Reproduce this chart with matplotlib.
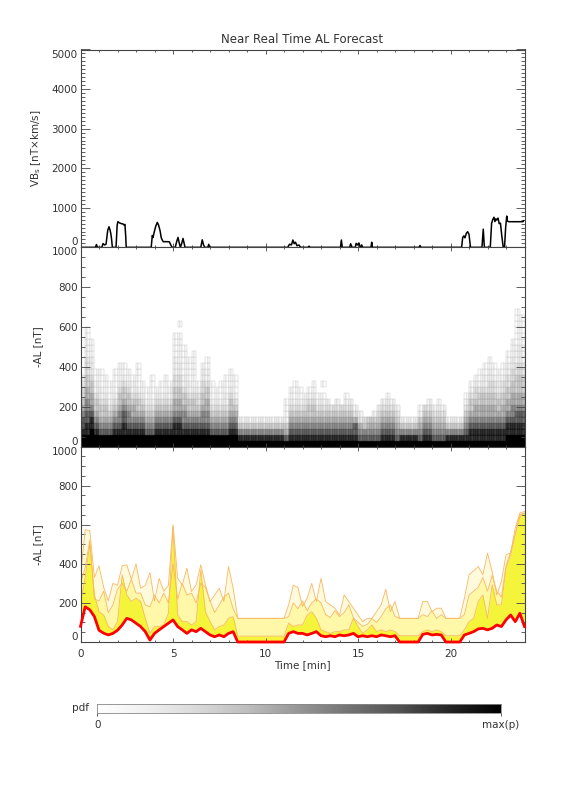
import numpy as np
import matplotlib
matplotlib.use("Agg")
import matplotlib.pyplot as plt

# --- DATA ---

# top panel: VBs driver, vertices of the black curve (time in min)
vbs_time = [0, 0.8, 0.86, 0.92, 1.15, 1.22, 1.3, 1.38, 1.47, 1.54, 1.6, 1.64, 1.68, 1.72,
            1.92, 1.98, 2.02, 2.1, 2.2, 2.3, 2.36, 2.4, 2.44, 2.47,
            3.82, 3.88, 3.92, 3.98, 4.07, 4.15, 4.22, 4.3, 4.36, 4.42, 4.48, 4.55, 4.8, 4.88, 4.95,
            5.12, 5.2, 5.27, 5.33, 5.4, 5.47, 5.54, 5.6, 5.65,
            6.5, 6.58, 6.65, 6.72, 6.88, 6.93, 6.98,
            11.2, 11.3, 11.4, 11.48, 11.55, 11.62, 11.7, 11.8, 11.9, 12.3, 12.35, 12.4,
            14.05, 14.1, 14.15, 14.55, 14.6, 14.68, 14.85, 14.9, 14.97, 15.05, 15.12,
            15.15, 15.2, 15.25, 15.7, 15.74, 15.78, 18.3, 18.35, 18.4,
            20.6, 20.66, 20.72, 20.78, 20.86, 20.93, 21.0, 21.08, 21.7, 21.77, 21.83,
            22.15, 22.22, 22.28, 22.35, 22.4, 22.45, 22.5, 22.57, 22.63, 22.7, 22.77, 22.85,
            22.92, 22.98, 23.04, 23.08, 23.15, 23.92, 23.95]
vbs_value = [0, 0, 70, 0, 0, 95, 60, 80, 430, 520, 430, 340, 200, 0,
             0, 560, 650, 620, 600, 590, 560, 580, 300, 0,
             0, 300, 250, 380, 540, 630, 560, 420, 250, 180, 140, 145, 140, 60, 0,
             0, 150, 250, 120, 0, 100, 225, 100, 0,
             0, 190, 60, 0, 0, 76, 0,
             0, 80, 60, 185, 90, 130, 40, 60, 0, 0, 30, 0,
             0, 185, 0, 0, 90, 0, 0, 100, 60, 110, 0,
             0, 60, 0, 0, 130, 0, 0, 45, 0,
             0, 250, 290, 240, 360, 395, 330, 0, 0, 460, 0,
             0, 600, 700, 760, 650, 720, 690, 740, 600, 610, 300, 0,
             0, 500, 790, 660, 648, 648, 670]

# bottom panel: forecast curves on a 0.25 min grid (0 .. 24 min)
al_time = np.arange(97) * 0.25
al_red = [80, 180, 165, 130, 60, 45, 36, 44, 60, 87, 121, 113, 96, 79, 53, 10, 44, 62, 79, 96,
          113, 79, 62, 44, 62, 53, 70, 53, 36, 27, 36, 27, 44, 53,
          0, 0, 0, 0, 0, 0, 0, 0, 0, 0, 0,
          44, 53, 44, 44, 36, 44, 53, 32, 27, 32, 27, 36, 32, 36, 44, 27, 32, 27, 32, 27, 36, 32,
          27, 32, 0, 0, 0, 0, 0, 39, 44, 36, 39, 36, 0, 0, 0, 0,
          36, 44, 53, 67, 70, 62, 70, 87, 79, 113, 138, 104, 147, 79]
al_q1 = [200, 330, 500, 240, 155, 138, 79, 62, 104, 343, 240, 207, 224, 207, 121, 44, 79, 79, 87, 147,
         590, 138, 104, 104, 87, 104, 370, 155, 104, 62, 79, 87, 121, 130,
         30, 30, 30, 30, 30, 30, 30, 30, 30, 30, 30,
         96, 79, 87, 87, 138, 155, 121, 62, 53, 44, 53, 53, 62, 62, 121, 79, 44, 62, 87, 53, 62, 53,
         62, 53, 32, 32, 32, 32, 32, 53, 62, 53, 62, 53, 32, 32, 32, 32,
         62, 104, 121, 207, 240, 121, 292, 190, 190, 378, 446, 549, 651, 660]
al_q2 = [300, 380, 520, 220, 210, 260, 150, 190, 270, 300, 260, 320, 250, 250, 190, 180, 240, 200, 250, 200,
         400, 220, 300, 240, 250, 200, 300, 280, 210, 150, 190, 230, 250, 170,
         121, 121, 121, 121, 121, 121, 121, 121, 121, 121, 121,
         130, 200, 170, 210, 160, 200, 220, 200, 140, 125, 160, 130, 150, 190, 125, 100, 80, 90, 120, 100,
         130, 170, 190, 130, 121, 121, 121, 121, 121, 140, 130, 160, 120, 140, 121, 121, 121, 121,
         140, 240, 260, 280, 330, 260, 340, 260, 230, 390, 460, 555, 640, 660]
al_q3 = [330, 575, 570, 330, 390, 280, 210, 300, 290, 390, 395, 320, 400, 275, 290, 355, 210, 325, 260, 290,
         600, 326, 292, 378, 258, 292, 395, 292, 207, 241, 275, 207, 386, 275,
         121, 121, 121, 121, 121, 121, 121, 121, 121, 121, 121,
         190, 290, 280, 181, 224, 300, 207, 326, 207, 190, 173, 138, 241, 207, 173, 138, 104, 121, 121, 155,
         190, 270, 155, 207, 121, 121, 121, 121, 121, 207, 207, 155, 173, 173, 121, 121, 121, 121,
         224, 344, 364, 386, 344, 455, 360, 241, 310, 446, 455, 583, 660, 668]

# middle panel: pdf of -AL, one string per 0.25 min column,
# one digit per 30 nT bin from the bottom up (0 = empty, 9 = max(p))
pdf_bin = 30
pdf_columns = [
    "998776543321", "99887766554433322211", "999887655443222111", "9987654432211",
    "9976544322111", "997654432111", "99765432111", "9987654321111",
    "99876654432111", "99887765443211", "9987665443211", "998765543221",
    "99876544321111", "99876543211", "9976543211", "997654321111",
    "9987654321", "99876543211", "998765432111", "99876543221",
    "9988765544332221111", "998876554433221111101", "99876654432211111", "998765443221111",
    "9987654432111111", "99876543321", "99876654433221", "998766554432211",
    "99765432111", "9976543211", "99765432111", "997654322111",
    "9987654432111", "998765432111",
    "98642", "98642", "98642", "98642", "98642", "98642", "98642", "98642", "98642", "98642",
    "97542111", "9876543211", "98765432111", "9876543211",
    "987654321", "9876544321", "98765443211", "987654321",
    "98765432101", "98765432", "9876543", "98765432",
    "9876543", "987654321", "98765432", "9877532",
    "976532", "97643", "97654", "976542",
    "9765432", "98765432", "987654321", "98765432",
    "9765432", "98642", "98642", "98642", "98642",
    "9765421", "9876543", "98765432", "9765432", "97654321", "9765432",
    "98642", "98642", "98642", "98642",
    "987654321", "98876544321", "988765543321", "9887655443211",
    "98876554432211", "988765544332211", "98876554433211", "9887654432211",
    "98876554433211", "9988765544332211", "998876655443322111",
    "99887765544433222111111", "9988776554443322211111",
]

# --- FIGURE ---
fig = plt.figure(figsize=(5.76, 7.92), dpi=100)
text_color = "#333333"
frame_color = "#444444"

ax_top = fig.add_axes([0.1398, 0.6877, 0.7708, 0.2498])
ax_mid = fig.add_axes([0.1398, 0.4362, 0.7708, 0.2515])
ax_bot = fig.add_axes([0.1398, 0.1894, 0.7708, 0.2468])


def style_axes(ax, ymax, ymajor, yminor):
    ax.set_xlim(0, 24)
    ax.set_ylim(0, ymax)
    ax.set_xticks(range(0, 21, 5))
    ax.set_xticks(range(0, 25), minor=True)
    ax.set_yticks(np.arange(0, ymax + 1, ymajor))
    ax.set_yticks(np.arange(0, ymax + 1, yminor), minor=True)
    ax.tick_params(which="both", direction="in", top=True, right=True,
                   colors=frame_color, labelcolor=text_color, labelsize=7.5, width=0.6)
    ax.tick_params(axis="y", which="major", length=6.4, pad=2)
    ax.tick_params(axis="y", which="minor", length=3.2)
    ax.tick_params(axis="x", which="major", length=3.0, pad=5)
    ax.tick_params(axis="x", which="minor", length=1.5)
    for sp in ax.spines.values():
        sp.set_color(frame_color)
        sp.set_linewidth(0.8)
    labels = ax.get_yticklabels()
    labels[0].set_va("bottom")
    labels[-1].set_va("top")
    ax.yaxis.set_label_coords(-0.085, 0.5)


# 1. top panel: VBs line
ax_top.plot(vbs_time, vbs_value, color="black", linewidth=1.1)
style_axes(ax_top, 5000, 1000, 100)
ax_top.tick_params(labelbottom=False)
ax_top.set_ylabel("VB$_\\mathrm{s}$ [nT×km/s]", fontsize=7.5, color=text_color)

# 2. middle panel: pdf cells drawn as narrow bars (two per column, like the original boxes)
bar_x, bar_bottom, bar_face, bar_edge = [], [], [], []
for k, col in enumerate(pdf_columns):
    for r, ch in enumerate(col):
        d = int(ch)
        if d == 0:
            continue
        g = 1 - (d / 9) ** 2.2
        e = max(g - 0.2, 0)
        for half in (0, 0.125):
            bar_x.append(al_time[k] + half)
            bar_bottom.append(r * pdf_bin)
            bar_face.append((g, g, g))
            bar_edge.append((e, e, e))
ax_mid.bar(bar_x, pdf_bin, width=0.125, bottom=bar_bottom, align="edge",
           color=bar_face, edgecolor=bar_edge, linewidth=0.35)
style_axes(ax_mid, 1000, 200, 50)
ax_mid.tick_params(labelbottom=False)
ax_mid.set_ylabel("-AL [nT]", fontsize=7.5, color=text_color)

# 3. bottom panel: filled forecast bands
pale, light, bright = "#FFFADC", "#FFF8A8", "#F4F43A"
orange = "#F8B860"
ax_bot.fill_between(al_time, al_red, al_q3, color=pale, linewidth=0)
ax_bot.fill_between(al_time, al_red, al_q2, color=light, linewidth=0)
ax_bot.fill_between(al_time, al_red, al_q1, color=bright, linewidth=0)
for q in (al_q1, al_q2, al_q3):
    ax_bot.plot(al_time, q, color=orange, linewidth=0.6)
ax_bot.plot(al_time, al_red, color="red", linewidth=2.0, clip_on=False, zorder=3)
style_axes(ax_bot, 1000, 200, 50)
ax_bot.set_ylabel("-AL [nT]", fontsize=7.5, color=text_color)
ax_bot.set_xlabel("Time [min]", fontsize=7.5, color=text_color, labelpad=1)

# 4. title
fig.text(0.525, 0.9495, "Near Real Time AL Forecast", ha="center", va="center",
         fontsize=8.5, color=text_color)

# 5. colour bar for the pdf
cax = fig.add_axes([0.169, 0.1001, 0.701, 0.0106])
cax.imshow(np.linspace(0, 1, 256)[None, :], cmap="Greys", aspect="auto",
           extent=[0, 1, 0, 1])
cax.set_yticks([])
cax.set_xticks([0, 1])
cax.set_xticklabels(["0", "max(p)"])
cax.tick_params(axis="x", direction="out", length=2, width=0.6, colors=frame_color,
                labelcolor=text_color, labelsize=7.5, pad=3)
for sp in cax.spines.values():
    sp.set_color("#888888")
    sp.set_linewidth(0.6)
fig.text(0.14, 0.106, "pdf", ha="center", va="center", fontsize=7.5, color=text_color)

plt.savefig("out.png", dpi=100)
